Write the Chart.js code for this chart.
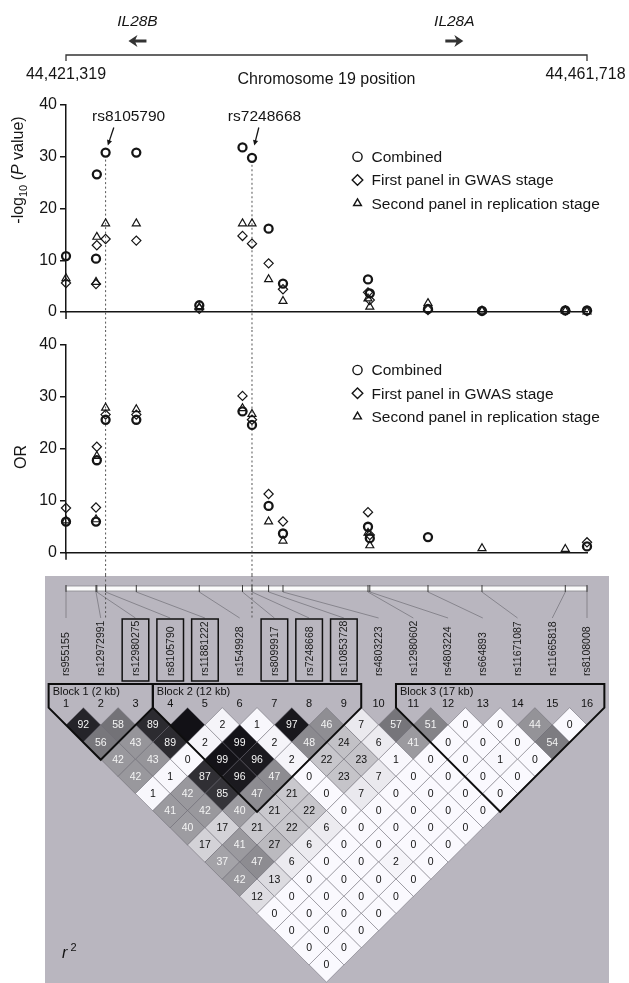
<!DOCTYPE html>
<html>
<head>
<meta charset="utf-8">
<script src="https://cdn.jsdelivr.net/npm/chart.js@4.4.0/dist/chart.umd.min.js"></script>
<style>
  html, body { margin: 0; padding: 0; background: #fff; }
  body { width: 629px; height: 983px; position: relative; overflow: hidden; }
  canvas { position: absolute; left: 0; }
  #pChart { top: 0; }
  #orChart { top: 330px; }
  #ldChart { top: 575px; }
</style>
</head>
<body>
<canvas id="pChart" width="629" height="330"></canvas>
<canvas id="orChart" width="629" height="245"></canvas>
<canvas id="ldChart" width="629" height="408"></canvas>
<script>
const FONT = '"Liberation Sans", Arial, Helvetica, sans-serif'
const INK = "#151515"

// chromosome 19 window and genes
const axisStart = 44421319
const axisEnd = 44461718
const geneNames = ["IL28B", "IL28A"]
const genePos = [44426860, 44451430]
const geneStrand = [-1, 1]

// SNPs (order of the LD plot)
const snpNames = ["rs955155", "rs12972991", "rs12980275", "rs8105790", "rs11881222", "rs1549928",
  "rs8099917", "rs7248668", "rs10853728", "rs4803223", "rs12980602", "rs4803224",
  "rs664893", "rs11671087", "rs11665818", "rs8108008"]
const snpPos = [44421319, 44423645, 44423710, 44424390, 44426770, 44431655,
  44435005, 44435741, 44437029, 44438145, 44444736, 44444876,
  44449388, 44453576, 44460035, 44461718]
const boxedSnps = [3, 4, 5, 7, 8, 9]
const highlightSnps = ["rs8105790", "rs7248668"]

// -log10(P)
const pCombined = [10.8, 10.3, 26.6, 30.8, 30.8, 1.3, 31.8, 29.8, 16.1, 5.5, 6.3, 3.6, 0.6, 0.2, 0.3, 0.3]
const pGwas = [5.6, 5.4, 12.9, 14.1, 13.8, 0.6, 14.7, 13.2, 9.4, 4.4, 3.8, 2.3, 0.4, 0.2, 0.3, 0.2]
const pReplication = [6.5, 5.8, 14.5, 17.1, 17.1, 0.9, 17.1, 17.1, 6.3, 2.1, 2.6, 1.0, 1.7, 0.2, 0.2, 0.1]

// OR
const orCombined = [6.0, 6.0, 17.8, 25.6, 25.6, null, 27.2, 24.6, 9.0, 3.7, 5.0, 2.8, 3.0, null, null, 1.2]
const orGwas = [8.6, 8.7, 20.4, 26.6, 26.6, null, 30.2, 25.6, 11.3, 6.0, 7.8, 3.4, null, null, null, 2.0]
const orReplication = [6.2, 6.4, 18.6, 27.9, 27.6, null, 27.8, 26.7, 6.0, 2.3, 3.8, 1.4, null, 0.85, 0.7, null]

const legendLabels = ["Combined", "First panel in GWAS stage", "Second panel in replication stage"]
const legendStyles = ["circle", "rectRot", "triangle"]

// LD blocks
const blockLabels = ["Block 1 (2 kb)", "Block 2 (12 kb)", "Block 3 (17 kb)"]
const blockFirst = [1, 4, 11]
const blockLast = [3, 9, 16]

// r2 x 100, one row per SNP distance (1..15)
const ldRows = [
  [92, 58, 89, 100, 2, 1, 97, 46, 7, 57, 51, 0, 0, 44, 0],
  [56, 43, 89, 2, 99, 2, 48, 24, 6, 41, 0, 0, 0, 54],
  [42, 43, 0, 99, 96, 2, 22, 23, 1, 0, 0, 1, 0],
  [42, 1, 87, 96, 47, 0, 23, 7, 0, 0, 0, 0],
  [1, 42, 85, 47, 21, 0, 7, 0, 0, 0, 0],
  [41, 42, 40, 21, 22, 0, 0, 0, 0, 0],
  [40, 17, 21, 22, 6, 0, 0, 0, 0],
  [17, 41, 27, 6, 0, 0, 0, 0],
  [37, 47, 6, 0, 0, 2, 0],
  [42, 13, 0, 0, 0, 0],
  [12, 0, 0, 0, 0],
  [0, 0, 0, 0],
  [0, 0, 0],
  [0, 0],
  [0]
]

// ---------- helpers ----------
function points(values) {
  const out = []
  values.forEach((v, i) => { if (v !== null) out.push({ x: snpPos[i], y: v }) })
  return out
}

function markerSet(values, style, radius, lw) {
  return {
    data: points(values),
    pointStyle: style,
    pointRadius: radius,
    pointHoverRadius: radius,
    pointBorderWidth: lw,
    pointBorderColor: INK,
    pointBackgroundColor: "rgba(0,0,0,0)",
    clip: false
  }
}

function drawMarker(ctx, style, x, y, r, lw) {
  ctx.save()
  ctx.lineWidth = lw
  ctx.strokeStyle = INK
  ctx.beginPath()
  if (style === "circle") ctx.arc(x, y, r, 0, Math.PI * 2)
  else if (style === "rectRot") {
    ctx.moveTo(x - r, y); ctx.lineTo(x, y - r); ctx.lineTo(x + r, y); ctx.lineTo(x, y + r); ctx.closePath()
  } else {
    ctx.moveTo(x, y - r); ctx.lineTo(x + r * 0.866, y + r / 2); ctx.lineTo(x - r * 0.866, y + r / 2); ctx.closePath()
  }
  ctx.stroke()
  ctx.restore()
}

function drawRich(ctx, parts, cx, cy, rotate) {
  ctx.save()
  ctx.translate(cx, cy)
  if (rotate) ctx.rotate(-Math.PI / 2)
  let total = 0
  parts.forEach(p => { ctx.font = p.font; p.w = ctx.measureText(p.text).width; total += p.w })
  let xx = -total / 2
  ctx.fillStyle = INK
  ctx.textAlign = "left"
  ctx.textBaseline = "alphabetic"
  parts.forEach(p => { ctx.font = p.font; ctx.fillText(p.text, xx, p.dy); xx += p.w })
  ctx.restore()
}

function arrow(ctx, x1, y1, x2, y2, head) {
  const a = Math.atan2(y2 - y1, x2 - x1)
  ctx.beginPath(); ctx.moveTo(x1, y1); ctx.lineTo(x2 - Math.cos(a) * 3, y2 - Math.sin(a) * 3); ctx.stroke()
  ctx.beginPath()
  ctx.moveTo(x2, y2)
  ctx.lineTo(x2 - head * Math.cos(a - 0.45), y2 - head * Math.sin(a - 0.45))
  ctx.lineTo(x2 - head * Math.cos(a + 0.45), y2 - head * Math.sin(a + 0.45))
  ctx.closePath(); ctx.fill()
}

function geneArrow(ctx, cx, cy, dir) {
  ctx.save()
  ctx.translate(cx, cy)
  ctx.scale(dir, 1)
  ctx.fillStyle = "#333"
  ctx.beginPath()
  ctx.moveTo(9, 0); ctx.lineTo(0, -6); ctx.lineTo(2, -1.5); ctx.lineTo(-9, -1.5)
  ctx.lineTo(-9, 1.5); ctx.lineTo(2, 1.5); ctx.lineTo(0, 6); ctx.closePath()
  ctx.fill()
  ctx.restore()
}

function panelPlugin(cfg) {
  return {
    id: "panelDeco",
    beforeDatasetsDraw(chart) {
      const { ctx, scales: { x, y } } = chart
      ctx.save()
      ctx.strokeStyle = "#555"
      ctx.lineWidth = 1
      ctx.setLineDash([2, 2.5])
      highlightSnps.forEach(name => {
        const i = snpNames.indexOf(name)
        const px = x.getPixelForValue(snpPos[i])
        const top = cfg.header ? y.getPixelForValue(pCombined[i]) + 7 : 0
        ctx.beginPath(); ctx.moveTo(px, top); ctx.lineTo(px, chart.height); ctx.stroke()
      })
      ctx.restore()
    },
    afterDraw(chart) {
      const { ctx, chartArea, scales: { x, y } } = chart
      ctx.save()
      // y axis runs a little below zero
      ctx.strokeStyle = INK
      ctx.lineWidth = 1.5
      ctx.beginPath(); ctx.moveTo(chartArea.left, chartArea.bottom); ctx.lineTo(chartArea.left, chartArea.bottom + 7); ctx.stroke()

      // axis title
      cfg.title(ctx)

      // legend
      legendLabels.forEach((label, k) => {
        const ly = cfg.legendY + k * 23.3
        const r = legendStyles[k] === "circle" ? 4.6 : legendStyles[k] === "rectRot" ? 5.3 : 4.5
        drawMarker(ctx, legendStyles[k], 357.5, ly, r, 1.4)
        ctx.font = "15.5px " + FONT
        ctx.fillStyle = INK
        ctx.textAlign = "left"
        ctx.textBaseline = "middle"
        ctx.fillText(label, 371.5, ly + 1)
      })

      if (cfg.header) {
        const x0 = x.getPixelForValue(axisStart)
        const x1 = x.getPixelForValue(axisEnd)
        ctx.strokeStyle = "#333"
        ctx.lineWidth = 1.3
        ctx.beginPath()
        ctx.moveTo(x0, 61); ctx.lineTo(x0, 55); ctx.lineTo(x1, 55); ctx.lineTo(x1, 61)
        ctx.stroke()
        ctx.fillStyle = INK
        ctx.font = "16px " + FONT
        ctx.textAlign = "center"
        ctx.textBaseline = "middle"
        ctx.fillText(axisStart.toLocaleString("en-US"), x0, 75)
        ctx.fillText(axisEnd.toLocaleString("en-US"), x1 - 1.5, 75)
        ctx.fillText("Chromosome 19 position", (x0 + x1) / 2, 80)
        geneNames.forEach((g, k) => {
          const gx = x.getPixelForValue(genePos[k])
          ctx.font = "italic 15.5px " + FONT
          ctx.fillStyle = INK
          ctx.textAlign = "center"
          ctx.fillText(g, gx, 22)
          geneArrow(ctx, gx, 41, geneStrand[k])
        })
        // SNP call-outs
        const dx = [23, 12.5]
        const ax = [[8.2, 2.2], [6.8, 2.3]]
        highlightSnps.forEach((name, k) => {
          const i = snpNames.indexOf(name)
          const px = x.getPixelForValue(snpPos[i])
          ctx.font = "15.5px " + FONT
          ctx.fillStyle = INK
          ctx.textAlign = "center"
          ctx.textBaseline = "middle"
          ctx.fillText(name, px + dx[k], 117)
          ctx.strokeStyle = INK
          ctx.lineWidth = 1.3
          arrow(ctx, px + ax[k][0], 127.5, px + ax[k][1], 145.5, 6)
        })
      }
      ctx.restore()
    }
  }
}

function panelOptions(pad) {
  return {
    responsive: false,
    animation: false,
    events: [],
    layout: { padding: pad },
    plugins: { legend: { display: false }, tooltip: { enabled: false } },
    scales: {
      x: {
        type: "linear", min: axisStart, max: axisEnd,
        ticks: { display: false },
        grid: { display: false, drawTicks: false },
        border: { display: true, color: INK, width: 1.5 },
        afterFit: s => { s.height = 0 }
      },
      y: {
        type: "linear", min: 0, max: 40,
        ticks: { stepSize: 10, color: INK, font: { size: 16, family: FONT }, padding: 3 },
        grid: { display: true, drawOnChartArea: false, drawTicks: true, tickLength: 6, color: INK, lineWidth: 1.5 },
        border: { display: true, color: INK, width: 1.5 },
        afterFit: s => { s.width = 66 }
      }
    }
  }
}

// ---------- -log10 P panel ----------
new Chart(document.getElementById("pChart"), {
  type: "scatter",
  data: { datasets: [
    markerSet(pGwas, "rectRot", 4.6, 1.2),
    markerSet(pReplication, "triangle", 4.6, 1.2),
    markerSet(pCombined, "circle", 4, 2.3)
  ] },
  options: panelOptions({ top: 105, bottom: 18, left: 0, right: 42 }),
  plugins: [panelPlugin({
    header: true,
    legendY: 156.7,
    title: ctx => drawRich(ctx, [
      { text: "-log", font: "16px " + FONT, dy: 5.5 },
      { text: "10", font: "11px " + FONT, dy: 9.5 },
      { text: " (", font: "16px " + FONT, dy: 5.5 },
      { text: "P", font: "italic 16px " + FONT, dy: 5.5 },
      { text: " value)", font: "16px " + FONT, dy: 5.5 }
    ], 17.5, 170, true)
  })]
})

// ---------- OR panel ----------
new Chart(document.getElementById("orChart"), {
  type: "scatter",
  data: { datasets: [
    markerSet(orGwas, "rectRot", 4.6, 1.2),
    markerSet(orReplication, "triangle", 4.6, 1.2),
    markerSet(orCombined, "circle", 4, 2.3)
  ] },
  options: panelOptions({ top: 15, bottom: 22.3, left: 0, right: 42 }),
  plugins: [panelPlugin({
    header: false,
    legendY: 40,
    title: ctx => drawRich(ctx, [{ text: "OR", font: "16px " + FONT, dy: 5.5 }], 20, 127, true)
  })]
})

// ---------- LD plot ----------
const ldCells = []
ldRows.forEach((row, k) => row.forEach((v, i) => ldCells.push({ x: i + 1 + (k + 1) / 2, y: k + 1, v })))

function ldColor(v) {
  const s = Math.round(250 - 2.32 * v)
  return "rgb(" + s + "," + Math.max(0, s - 1) + "," + Math.min(255, s + 4) + ")"
}

const HALF = (587 - 66) / 15 / 2

const ldPlugin = {
  id: "ldDeco",
  beforeDatasetsDraw(chart) {
    const { ctx, scales } = chart
    const xs = scales.x, ys = scales.y, pos = scales.pos
    const y1 = ys.getPixelForValue(1)
    ctx.save()
    // page-grey panel
    ctx.fillStyle = "#b9b6bf"
    ctx.fillRect(45, 1, 564, chart.height)
    // physical map bar
    const b0 = pos.getPixelForValue(axisStart), b1 = pos.getPixelForValue(axisEnd)
    ctx.fillStyle = "#fbfbfb"
    ctx.fillRect(b0, 11, b1 - b0, 5)
    ctx.strokeStyle = "#8a8990"
    ctx.lineWidth = 0.8
    ctx.strokeRect(b0, 11, b1 - b0, 5)
    snpPos.forEach((p, i) => {
      const tx = pos.getPixelForValue(p)
      const lx = xs.getPixelForValue(i + 1)
      ctx.strokeStyle = "#3a3a3a"
      ctx.lineWidth = 1
      ctx.beginPath(); ctx.moveTo(tx, 10); ctx.lineTo(tx, 17); ctx.stroke()
      ctx.strokeStyle = "rgba(70,68,75,0.55)"
      ctx.lineWidth = 0.8
      ctx.beginPath(); ctx.moveTo(tx, 17); ctx.lineTo(lx, y1 - 107); ctx.stroke()
    })
    // dotted guides continuing from the panels
    ctx.strokeStyle = "#555"
    ctx.lineWidth = 1
    ctx.setLineDash([2, 2.5])
    highlightSnps.forEach(name => {
      const tx = pos.getPixelForValue(snpPos[snpNames.indexOf(name)])
      ctx.beginPath(); ctx.moveTo(tx, 0); ctx.lineTo(tx, y1 - 107); ctx.stroke()
    })
    ctx.setLineDash([])
    // SNP names
    snpNames.forEach((name, i) => {
      const lx = xs.getPixelForValue(i + 1)
      ctx.save()
      ctx.translate(lx, y1 - 49)
      ctx.rotate(-Math.PI / 2)
      ctx.font = "10.5px " + FONT
      ctx.fillStyle = "#1a1a1a"
      ctx.textAlign = "left"
      ctx.textBaseline = "middle"
      ctx.fillText(name, 0, 0.5)
      ctx.restore()
      if (boxedSnps.includes(i + 1)) {
        ctx.strokeStyle = "#111"
        ctx.lineWidth = 1.5
        ctx.strokeRect(lx - 13.3, y1 - 106, 26.6, 62)
      }
    })
    ctx.restore()
  },
  afterDatasetsDraw(chart) {
    const { ctx, scales } = chart
    const xs = scales.x, ys = scales.y
    const y1 = ys.getPixelForValue(1)
    const meta = chart.getDatasetMeta(0)
    ctx.save()
    ctx.font = "10.5px " + FONT
    ctx.textAlign = "center"
    ctx.textBaseline = "middle"
    meta.data.forEach((el, k) => {
      const v = ldCells[k].v
      if (v >= 100) return
      ctx.fillStyle = v >= 30 ? "#f4f4f4" : "#111"
      ctx.fillText(String(v), el.x, el.y + 0.5)
    })
    // haplotype blocks
    ctx.strokeStyle = "#0d0d0d"
    ctx.lineWidth = 2
    blockLabels.forEach((label, k) => {
      const a = blockFirst[k], b = blockLast[k]
      const xa = xs.getPixelForValue(a), xb = xs.getPixelForValue(b)
      const top = y1 - 41
      ctx.beginPath()
      ctx.moveTo(xa - HALF, top)
      ctx.lineTo(xb + HALF, top)
      ctx.lineTo(xb + HALF, y1 - HALF)
      ctx.lineTo((xa + xb) / 2, y1 + (b - a) * HALF)
      ctx.lineTo(xa - HALF, y1 - HALF)
      ctx.closePath()
      ctx.stroke()
      ctx.font = "11px " + FONT
      ctx.fillStyle = "#111"
      ctx.textAlign = "left"
      ctx.fillText(label, xa - HALF + 4, y1 - 33)
    })
    // SNP numbers
    ctx.font = "11px " + FONT
    ctx.textAlign = "center"
    ctx.fillStyle = "#111"
    snpNames.forEach((n, i) => ctx.fillText(String(i + 1), xs.getPixelForValue(i + 1), y1 - HALF - 3.5))
    // r2 key
    ctx.textAlign = "left"
    ctx.textBaseline = "alphabetic"
    ctx.font = "italic 16px " + FONT
    ctx.fillText("r", 62, 383)
    ctx.font = "11px " + FONT
    ctx.fillText("2", 70.5, 376)
    ctx.restore()
  }
}

new Chart(document.getElementById("ldChart"), {
  type: "scatter",
  data: { datasets: [{
    data: ldCells,
    pointStyle: "rectRot",
    pointRadius: HALF,
    pointHoverRadius: HALF,
    pointBackgroundColor: ldCells.map(c => ldColor(c.v)),
    pointBorderColor: "rgba(105,103,112,0.65)",
    pointBorderWidth: 0.8,
    clip: false
  }] },
  options: {
    responsive: false,
    animation: false,
    events: [],
    layout: { padding: { top: 150, bottom: 408 - 150 - 14 * HALF, left: 66, right: 42 } },
    plugins: { legend: { display: false }, tooltip: { enabled: false } },
    scales: {
      x: { type: "linear", display: false, min: 1, max: 16 },
      y: { type: "linear", display: false, min: 1, max: 15, reverse: true },
      pos: { type: "linear", axis: "x", display: false, min: axisStart, max: axisEnd }
    }
  },
  plugins: [ldPlugin]
})
</script>
</body>
</html>
